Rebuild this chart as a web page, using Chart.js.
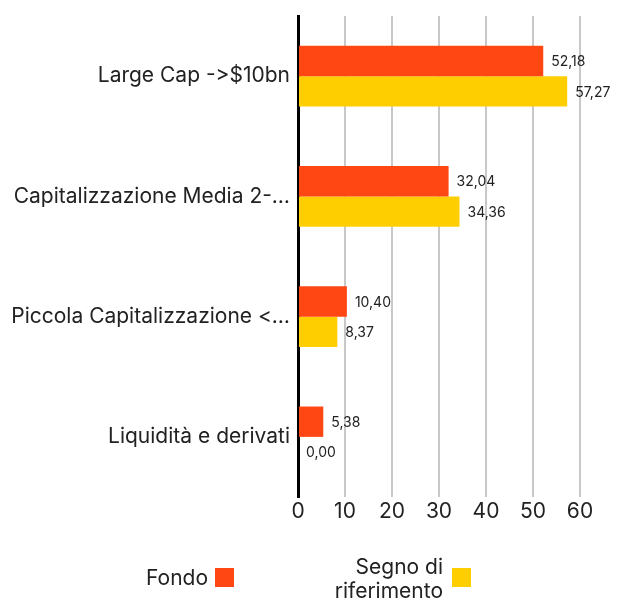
<!DOCTYPE html>
<html><head><meta charset="utf-8">
<script src="https://cdn.jsdelivr.net/npm/chart.js@4"></script>
<style>
html,body{margin:0;padding:0;background:#fff;}
#wrap{position:relative;width:625px;height:603px;}
canvas{position:absolute;left:0;top:0;}
.leg{position:absolute;font-family:Inter,Roboto,sans-serif;font-size:21px;color:#222;line-height:24px;text-align:right;}
.box{position:absolute;width:19px;height:19px;}
</style></head>
<body>
<div id="wrap">
<canvas id="c" width="625" height="603"></canvas>
<div class="leg" style="right:417px;top:566px;">Fondo</div>
<div class="box" style="left:215px;top:568px;background:#ff4713;"></div>
<div class="leg" style="right:182px;top:555px;">Segno di<br>riferimento</div>
<div class="box" style="left:452px;top:568px;background:#ffce00;"></div>
</div>
<script>
const categories = ["Large Cap -\u200C>$10bn", "Capitalizzazione Media 2-…", "Piccola Capitalizzazione <…", "Liquidità e derivati"];
const fondo = [52.18, 32.04, 10.40, 5.38];
const benchmark = [57.27, 34.36, 8.37, 0.00];
const seriesNames = ["Fondo", "Segno di riferimento"];
const xTicks = [0, 10, 20, 30, 40, 50, 60];

const FONT = 'Inter, Roboto, sans-serif';
const fmt = v => v.toFixed(2).replace('.', ',');

const labelPlugin = {
  id: 'valLabels',
  afterDatasetsDraw(chart) {
    const ctx = chart.ctx;
    ctx.save();
    ctx.font = '14px ' + FONT;
    ctx.fillStyle = '#222';
    ctx.textAlign = 'left';
    ctx.textBaseline = 'middle';
    chart.data.datasets.forEach((ds, i) => {
      chart.getDatasetMeta(i).data.forEach((bar, j) => {
        ctx.fillText(fmt(ds.data[j]), bar.x + 8, bar.y + 1);
      });
    });
    ctx.restore();
  }
};

new Chart(document.getElementById('c'), {
  type: 'bar',
  data: {
    labels: categories,
    datasets: [
      {label: seriesNames[0], data: fondo, backgroundColor: '#ff4713'},
      {label: seriesNames[1], data: benchmark, backgroundColor: '#ffce00'}
    ]
  },
  options: {
    indexAxis: 'y',
    responsive: false,
    animation: false,
    categoryPercentage: 0.505,
    barPercentage: 1,
    layout: {padding: {top: 16, right: 45, bottom: 76, left: 0}},
    plugins: {legend: {display: false}, tooltip: {enabled: false}},
    scales: {
      x: {
        min: 0, max: 60,
        afterBuildTicks: s => { s.ticks = xTicks.map(v => ({value: v})); },
        afterFit: s => { s.height = 30; s.paddingLeft = 0; s.paddingRight = 0; },
        ticks: {font: {family: FONT, size: 21}, color: '#222', padding: 2, maxRotation: 0},
        grid: {color: '#c8c8c8', lineWidth: 2, drawTicks: false},
        border: {display: false}
      },
      y: {
        afterFit: s => { s.width = 298; s.paddingTop = 0; s.paddingBottom = 0; },
        ticks: {font: {family: FONT, size: 21}, color: '#222', padding: 8},
        grid: {display: false, drawTicks: false},
        border: {display: true, color: '#000', width: 3}
      }
    }
  },
  plugins: [labelPlugin]
});
</script>
</body></html>
